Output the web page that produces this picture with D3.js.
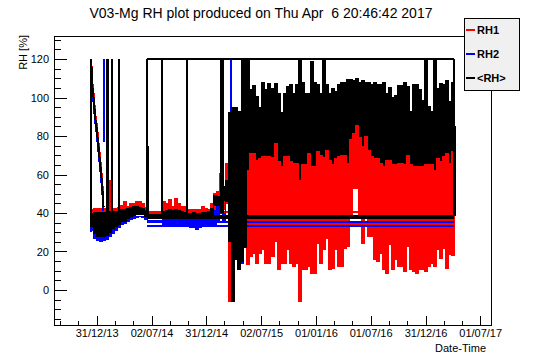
<!DOCTYPE html>
<html>
<head>
<meta charset="utf-8">
<script src="https://cdn.jsdelivr.net/npm/d3@7"></script>
<style>
  body { margin: 0; background: #fff; }
  text { font-family: "Liberation Sans", Arial, sans-serif; }
</style>
</head>
<body>
<div id="chart"></div>
<script>
// ---- data (days counted from 1 Jan 2014) ----
var titleText = "V03-Mg RH plot produced on Thu Apr  6 20:46:42 2017";
var seriesNames = ["RH1", "RH2", "<RH>"];
var xTickLabels = ["31/12/13", "02/07/14", "31/12/14", "02/07/15", "01/01/16", "01/07/16", "31/12/16", "01/07/17"];
var yTicks = [0, 20, 40, 60, 80, 100, 120];

var gridStep = 10;      // days per sample (daily swing given as high / low)
var earlyStart = -20;   // first sample, early + transition period
var denseStart = 500;   // first sample, oscillating period up to 6 Apr 2017
var lastDay = 1191;
var errorValue = 120;   // sensor error readings

// start-up decay
var decayDays = [-19.5, -19, -16, -11, -6, 0, 5, 11, 17, 20, 22];
var rh1Decay = [38, 120, 109, 102, 92, 85, 77, 68, 58, 51, 44];
var rh2Decay = [30, 120, 105, 97, 88, 80.5, 72, 63, 53, 46, 41];
var avgDecay = [33, 120, 107, 100, 90, 83, 74.5, 65.8, 55.4, 48.5, 43.3];

// early period, high / low per sample
var rh1Hi = [42, 42.4, 42.4, 42.4, 42.4, 42.4, 57, 42.4, 42.4, 43,
  44, 45.9, 43.5, 45, 45, 46, 46, 45, 43, 40.3,
  40.3, 40.3, 40.3, 40.3, 45.9, 45, 46.8, 43.3, 47.6, 45,
  43.3, 43.3, 41.6, 42, 42, 42, 42, 43.6, 42.5, 42,
  45, 50.2, 51, 60.6, 52, 65.8, 55, 50, 45, 45,
  50, 54];
var rh1Lo = [38, 38, 38, 38, 38, 38, 38, 38, 38, 38,
  38, 38, 39.5, 39.5, 39.5, 39.5, 39.5, 39.5, 39.5, 39.5,
  39.5, 39.5, 39.5, 39.5, 39.5, 39.5, 39.5, 39.5, 39.5, 39.5,
  39.5, 39.5, 39.5, 39.5, 39.5, 39.5, 39.5, 39.5, 39.5, 39.5,
  39.5, 40, 40.5, 40, 42, 45, -6, 20, 20, 20,
  30, 30];
var rh2Hi = [36, 36, 36, 36, 36, 36, 36, 36, 36, 36,
  36, 36, 38, 38, 38, 38, 38, 38, 38, 36,
  36, 36, 36, 36, 37, 37, 37, 37, 37, 37,
  37, 37, 37, 37, 37, 37, 37, 37, 37, 37,
  37, 41.5, 48.5, 46, 40, 57, 55, 95, 95, 92.6,
  80, 48.5];
var rh2Lo = [31, 27, 25.5, 25, 25.5, 26, 27.7, 29.5, 31, 32.5,
  34, 34.6, 35.5, 36.4, 37, 37.5, 38, 37.5, 36.5, 35,
  35, 35, 35, 35, 32.9, 33, 33.5, 33.5, 33.2, 33.2,
  33, 33, 33, 32.5, 32.5, 31.6, 32.5, 33, 33.8, 33.5,
  33.5, 34, 36, 40, 36, 48, 40, 45, 24, 24,
  13.9, 40];
var avgHi = [40, 40.5, 40.5, 40.5, 40.5, 40.5, 41, 41, 41, 41,
  42, 42, 42.5, 43, 43.3, 43.3, 43, 42.5, 41.5, 39,
  39, 39, 39, 39, 41, 41.5, 42, 41.5, 42, 41.5,
  41, 40.5, 40, 40, 40.5, 40, 40, 40.5, 40.5, 41,
  42.4, 49, 48.5, 48.5, 54, 57, 92, 95, 95, 93,
  92, 120];
var avgLo = [33, 29.5, 28, 27.7, 28, 28.5, 30, 32, 33, 34,
  35.5, 35.5, 37, 38, 38.5, 39, 39, 39, 38, 37.5,
  37.5, 37.5, 37.5, 37.5, 38.5, 39, 39, 39, 39, 39,
  39, 39, 38.5, 38.5, 38.5, 38.5, 38.5, 38.5, 38.5, 38.5,
  39, 44, 44, 44, 46.7, 46, 25, -6, 15.6, 10.4,
  14.7, 22];

// oscillating period
var rh1DenseHi = [62, 71, 71, 67.5, 68.4, 69.3, 69.3, 69.3, 69, 76,
  66.7, 64.1, 69.3, 69.3, 66.7, 65.8, 65.8, 57, 65, 65,
  71, 64, 64, 72, 70, 69, 72.7, 67.5, 65, 68.4,
  69.3, 70, 70, 65.8, 78, 81.4, 85.7, 79, 74.5, 80,
  72.7, 69.3, 68.4, 68.4, 65.8, 64, 67.5, 67.5, 65, 65,
  65.8, 65.8, 65, 70, 65, 64, 64, 64, 64, 65,
  65, 65, 62.3, 68.4, 66.7, 69.3, 71, 65.8, 72, 69.3];
var rh1DenseLo = [13, 17.3, 19, 13.9, 19, 20.8, 13.9, 13.9, 17.3, 25,
  10.4, 13.9, 13.9, 20.8, 13.9, 12.1, 13.9, -6, 10.4, 10.4,
  12, 8.7, 8.7, 24, 14, 20.8, 27, 10.4, 11.3, 20.8,
  12, 12, 21.7, 22.5, 39, 53, 53, 39, 24, 39,
  27.7, 27.7, 15.6, 14.7, 19, 10.4, 8.7, 23.4, 10.4, 15.6,
  12, 12, 9.5, 22.5, 10.4, 9.5, 8.7, 10.4, 10.4, 9.5,
  12, 13.9, 12, 20.8, 16.5, 21.7, 11.3, 18.2, 18, 24];
var avgDenseHi = [120, 104, 106.5, 100.4, 95, 108, 104, 107.4, 104.8, 107.4,
  102.2, 92, 102, 106, 107, 102, 107, 120, 108, 102,
  102, 118.6, 108, 107, 102, 120, 107, 102, 104.8, 103,
  107, 108, 108, 109.4, 109.4, 109, 110, 108, 109, 108,
  108, 107, 108, 107, 107, 108, 102, 105, 100, 101,
  106.5, 106.5, 108, 105.6, 92.7, 107, 107, 104, 98.7, 120,
  95.3, 92.7, 120, 104.8, 107.4, 107, 109, 97.8, 108, 106.5];
var avgDenseLo = [56, 60, 60, 58, 58, 60, 60, 60, 60, 62,
  58, 56, 60, 60, 58, 58, 58, 55, 58, 58,
  62, 56, 56, 62, 60, 60, 62, 58, 58, 60,
  60, 60, 60, 58, 66, 70, 72, 68, 64, 68,
  62, 60, 60, 60, 58, 56, 58, 58, 58, 58,
  58, 58, 58, 60, 58, 56, 56, 56, 56, 58,
  58, 58, 56, 60, 58, 60, 62, 58, 62, 60];

// single error readings: [day, value before the jump]
var avgSpikes = [[33, 40], [37, 40], [50, 40], [73, 40], [168, 38.7], [216, 38.7],
  [300, 38.7], [412, 40], [420, 40], [484, 40], [494, 40], [1191, 38.7]];
var rh2Spikes = [[23, 77], [446, 92]];

// long straight joins from out-of-order records: [fromDay, toDay, value]
var rh1Joins = [[168, 1191, 40.3], [444, 1191, 34.4]];
var rh2Joins = [[168, 1191, 35.5], [168, 1191, 33.3]];
var avgJoins = [[168, 1191, 120], [168, 1191, 38.7], [168, 1191, 37.6]];

// ---- chart ----
var margin = { top: 36, left: 54, right: 55, bottom: 37 },
  width = 546 - margin.left - margin.right,
  height = 362 - margin.top - margin.bottom;

var svg = d3.select("#chart")
  .append("svg")
  .attr("width", 546)
  .attr("height", 362);

var g = svg.append("g")
  .attr("transform", "translate(" + margin.left + "," + margin.top + ")");

var epoch = new Date(2014, 0, 1);
function dayToDate(d) { return new Date(epoch.getTime() + d * 864e5); }

var xPositionScale = d3.scaleTime()
  .domain([new Date(2013, 7, 11), new Date(2017, 7, 6)])
  .range([0, width]);
var yPositionScale = d3.scaleLinear().domain([-18.2, 132]).range([height, 0]);

g.append("clipPath").attr("id", "frame-clip")
  .append("rect").attr("width", width).attr("height", height);

var plot = g.append("g").attr("clip-path", "url(#frame-clip)");

var line = d3.line()
  .x(function(p) { return xPositionScale(dayToDate(p[0])) })
  .y(function(p) { return yPositionScale(p[1]) });

// each sample spans from its low to its high reading
var band = d3.area()
  .curve(d3.curveStepAfter)
  .x(function(r) { return xPositionScale(dayToDate(r.day)) })
  .y0(function(r) { return yPositionScale(r.lo) })
  .y1(function(r) { return yPositionScale(r.hi) });

function rows(start, hi, lo, endDay) {
  var out = hi.map(function(h, i) { return { day: start + i * gridStep, hi: h, lo: lo[i] } });
  var last = out[out.length - 1];
  out.push({ day: endDay, hi: last.hi, lo: last.lo });
  return out;
}

function drawBand(data, color) {
  plot.append("path")
    .datum(data)
    .attr("d", band)
    .attr("fill", color)
    .attr("stroke", color)
    .attr("stroke-width", 1)
    .attr("shape-rendering", "crispEdges");
}

function drawPath(points, color) {
  plot.append("path")
    .datum(points)
    .attr("d", line)
    .attr("fill", "none")
    .attr("stroke", color)
    .attr("stroke-width", 2)
    .attr("stroke-linejoin", "bevel")
    .attr("shape-rendering", "crispEdges");
}

function drawExtras(color, decay, joins, spikes) {
  drawPath(decayDays.map(function(d, i) { return [d, decay[i]] }), color);
  joins.forEach(function(j) { drawPath([[j[0], j[2]], [j[1], j[2]]], color) });
  spikes.forEach(function(s) { drawPath([[s[0], s[1]], [s[0], errorValue], [s[0] + 1, s[1]]], color) });
}

// the averaged oscillation sits underneath RH1
drawBand(rows(denseStart, avgDenseHi, avgDenseLo, lastDay), "#000");

drawBand(rows(earlyStart, rh1Hi, rh1Lo, denseStart), "#ff0000");
drawBand(rows(denseStart, rh1DenseHi, rh1DenseLo, lastDay), "#ff0000");
drawExtras("#ff0000", rh1Decay, rh1Joins, []);

drawBand(rows(earlyStart, rh2Hi, rh2Lo, denseStart), "#0000ff");
drawExtras("#0000ff", rh2Decay, rh2Joins, rh2Spikes);

drawBand(rows(earlyStart, avgHi, avgLo, denseStart), "#000");
drawExtras("#000", avgDecay, avgJoins, avgSpikes);

// ---- axes ----
var parseLabel = d3.timeParse("%d/%m/%y");
var xMajor = xTickLabels.map(parseLabel);
var xMinor = [];
var step0 = (xMajor[1] - xMajor[0]) / 3;
xMinor.push(new Date(xMajor[0].getTime() - 2 * step0), new Date(xMajor[0].getTime() - step0));
for (var i = 0; i < xMajor.length - 1; i++) {
  var s = (xMajor[i + 1] - xMajor[i]) / 3;
  xMinor.push(new Date(xMajor[i].getTime() + s), new Date(xMajor[i].getTime() + 2 * s));
}
xMinor = xMinor.filter(function(d) { return d >= xPositionScale.domain()[0] && d <= xPositionScale.domain()[1] });

var xAxis = d3.axisBottom(xPositionScale)
  .tickValues(xMajor)
  .tickFormat(d3.timeFormat("%d/%m/%y"))
  .tickSize(-8.7)
  .tickPadding(4);
g.append("g")
  .attr("class", "axis x-axis")
  .attr("transform", "translate(0," + height + ")")
  .call(xAxis);

g.append("g")
  .attr("class", "axis x-minor")
  .attr("transform", "translate(0," + height + ")")
  .call(d3.axisBottom(xPositionScale).tickValues(xMinor).tickFormat("").tickSize(-4.3));

var yAxis = d3.axisLeft(yPositionScale)
  .tickValues(yTicks)
  .tickSize(-13)
  .tickPadding(5);
g.append("g")
  .attr("class", "axis y-axis")
  .call(yAxis);

var yMinor = d3.range(-15, 131, 5).filter(function(v) { return v % 20 !== 0 });
g.append("g")
  .attr("class", "axis y-minor")
  .call(d3.axisLeft(yPositionScale).tickValues(yMinor).tickFormat("").tickSize(-6.5));

g.selectAll(".axis .domain").remove();
g.selectAll(".axis line").attr("stroke", "#000").attr("shape-rendering", "crispEdges");
g.selectAll(".axis text").attr("font-size", 11).attr("fill", "#000")
  .style("font-family", "'Liberation Sans', Arial, sans-serif");

g.append("rect")
  .attr("width", width)
  .attr("height", height)
  .attr("fill", "none")
  .attr("stroke", "#000")
  .attr("shape-rendering", "crispEdges");

// ---- labels ----
svg.append("text")
  .attr("x", 261)
  .attr("y", 18)
  .attr("text-anchor", "middle")
  .attr("font-size", 14)
  .style("white-space", "pre")
  .text(titleText);

svg.append("text")
  .attr("transform", "translate(27,35) rotate(-90)")
  .attr("text-anchor", "end")
  .attr("font-size", 11)
  .text("RH [%]");

svg.append("text")
  .attr("x", 486)
  .attr("y", 352)
  .attr("text-anchor", "end")
  .attr("font-size", 11)
  .text("Date-Time");

// ---- legend ----
var legend = svg.append("g").attr("transform", "translate(464,18)");
legend.append("rect")
  .attr("width", 55)
  .attr("height", 72)
  .attr("fill", "#f0f0f0")
  .attr("stroke", "#000")
  .attr("shape-rendering", "crispEdges");
var legendColors = ["#ff0000", "#0000ff", "#000000"];
seriesNames.forEach(function(name, i) {
  var yy = 12 + i * 24;
  legend.append("line")
    .attr("x1", 2).attr("x2", 11)
    .attr("y1", yy).attr("y2", yy)
    .attr("stroke", legendColors[i])
    .attr("stroke-width", 2);
  legend.append("text")
    .attr("x", 13)
    .attr("y", yy + 4)
    .attr("font-size", 11)
    .attr("font-weight", "bold")
    .text(name);
});
</script>
</body>
</html>
